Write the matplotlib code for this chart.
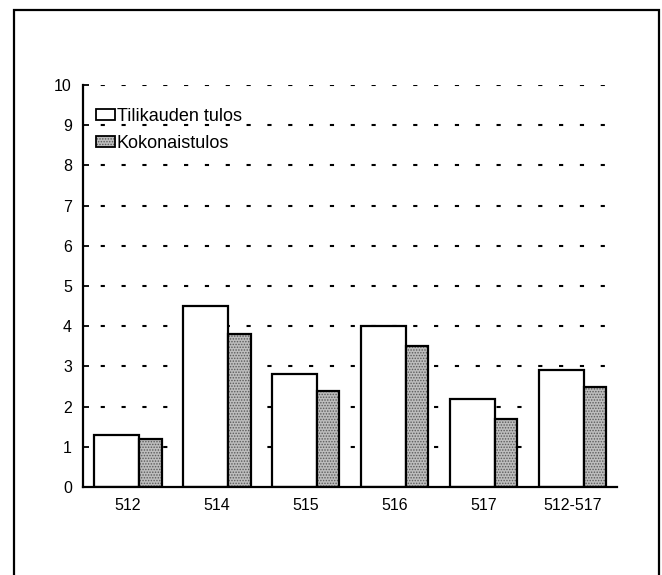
import matplotlib
matplotlib.use("Agg")
import matplotlib.pyplot as plt
from matplotlib.patches import Rectangle, Patch
import numpy as np

plt.rcParams["font.family"] = ["Liberation Sans", "DejaVu Sans"]
plt.rcParams["hatch.linewidth"] = 0.7

categories = ["512", "514", "515", "516", "517", "512-517"]
tilikauden_tulos = [1.3, 4.5, 2.8, 4.0, 2.2, 2.9]
kokonaistulos = [1.2, 3.8, 2.4, 3.5, 1.7, 2.5]
y_ticks = list(range(0, 11))

fig = plt.figure(figsize=(6.62, 5.75), dpi=100)
ax = fig.add_axes([0.1254, 0.153, 0.8066, 0.699])

x = np.arange(len(categories))
w1, w2 = 0.506, 0.253
left = x - 0.377

# grid lines as dashes behind the bars
for yv in y_ticks[1:]:
    ax.axhline(yv, color="black", lw=1.5, linestyle=(1.5, (2, 8)), zorder=0)

ax.bar(left, tilikauden_tulos, width=w1, align="edge", facecolor="white",
       edgecolor="black", linewidth=1.6, zorder=2)
# stippled fill, then the black outline
ax.bar(left + w1, kokonaistulos, width=w2, align="edge", facecolor="#bdbdbd",
       edgecolor="#5a5a5a", hatch="......", linewidth=0, zorder=2)
ax.bar(left + w1, kokonaistulos, width=w2, align="edge", fill=False,
       edgecolor="black", linewidth=1.6, zorder=3)

ax.set_xlim(-0.5, 5.5)
ax.set_ylim(0, 10)
ax.set_xticks(x)
ax.set_xticklabels(categories, fontsize=11.5)
ax.set_yticks(y_ticks)
ax.set_yticklabels([str(v) for v in y_ticks], fontsize=11.5)
ax.tick_params(axis="x", length=0, pad=8)
ax.tick_params(axis="y", direction="in", length=4, width=1.3, pad=8)
for s in ["top", "right"]:
    ax.spines[s].set_visible(False)
for s in ["left", "bottom"]:
    ax.spines[s].set_linewidth(1.6)

# legend: the stippled handle is a hatched patch with a black outline on top
h1 = Patch(facecolor="white", edgecolor="black", lw=1.3)
h2 = (Patch(facecolor="#bdbdbd", edgecolor="#5a5a5a", lw=0, hatch="......"),
      Patch(fill=False, edgecolor="black", lw=1.3))
ax.legend(handles=[h1, h2], labels=["Tilikauden tulos", "Kokonaistulos"],
          loc="upper left", bbox_to_anchor=(0.0, 0.975), frameon=False,
          fontsize=13, handlelength=1.05, handleheight=0.6, handletextpad=0.12,
          labelspacing=0.55, borderaxespad=0.3)

# outer frame
fig.patches.append(Rectangle((0.021, -0.01), 0.9745, 0.993, transform=fig.transFigure,
                             fill=False, edgecolor="black", lw=1.6))

fig.savefig("out.png", dpi=100)
